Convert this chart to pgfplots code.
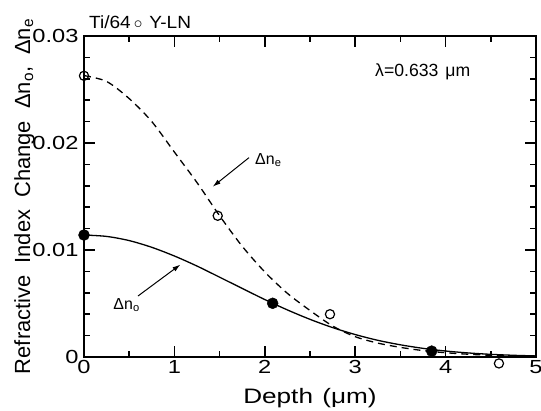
\documentclass[border=0pt]{standalone}
\usepackage{fontspec}
\setmainfont{Liberation Sans}
\newfontfamily\widefont{Liberation Sans}[FakeStretch=1.25]
\newfontfamily\semiwide{Liberation Sans}[FakeStretch=1.08]
\usepackage{pgfplots}
\pgfplotsset{compat=1.18}
\usetikzlibrary{arrows.meta}

\pgfplotstableread{
x y
0.00 0.02630
0.25 0.02575
0.50 0.02415
0.75 0.02200
1.00 0.01915
1.25 0.01630
1.50 0.01320
1.75 0.01035
2.00 0.00795
2.25 0.00595
2.50 0.00435
2.75 0.00290
3.00 0.00190
3.25 0.00130
3.50 0.00090
3.75 0.00060
4.00 0.00040
4.25 0.00026
4.50 0.00016
4.75 0.00009
5.00 0.00004
}\curveE

\pgfplotstableread{
x y
0.00 0.01140
0.25 0.01127
0.50 0.01088
0.75 0.01025
1.00 0.00944
1.25 0.00850
1.50 0.00746
1.75 0.00641
2.00 0.00537
2.25 0.00440
2.50 0.00352
2.75 0.00275
3.00 0.00210
3.25 0.00156
3.50 0.00114
3.75 0.00081
4.00 0.00056
4.25 0.00038
4.50 0.00025
4.75 0.00016
5.00 0.00010
}\curveO

\pgfplotstableread{
x y
0.00 0.02628
1.479 0.01320
2.721 0.00400
4.59 -0.00060
}\dataE

\pgfplotstableread{
x y
0.00 0.01140
2.087 0.00502
3.846 0.00055
}\dataO

\begin{document}
\begin{tikzpicture}
\begin{axis}[
  name=ax,
  scale only axis, width=452bp, height=321bp,
  xmin=0, xmax=5, ymin=0, ymax=0.03,
  clip=false,
  xtick={0,1,2,3,4,5}, xticklabels={0,1,2,3,4,5},
  minor xtick={0.5,1.5,2.5,3.5,4.5},
  ytick={0,0.01,0.02,0.03}, yticklabels={0,0.01,0.02,0.03},
  minor y tick num=4,
  scaled y ticks=false, scaled x ticks=false,
  tick pos=both, xticklabel pos=lower, yticklabel pos=left,
  tick align=inside,
  major tick length=11bp, minor tick length=6bp,
  axis line style={line width=1.8bp},
  every tick/.style={line width=1.5bp, black},
  /pgf/number format/assume math mode=true,
  ticklabel style={font=\widefont\fontsize{19}{19}\selectfont},
  yticklabel style={xshift=-2bp},
  xlabel={Depth\hspace{0.45em}(μm)},
  ylabel={Refractive\hspace{0.55em}Index\hspace{0.55em}Change\hspace{0.55em}Δn\textsubscript{o},\hspace{0.55em}Δn\textsubscript{e}},
  every axis x label/.style={at={(axis description cs:0.5,-0.128)}, anchor=center, font=\widefont\fontsize{21}{21}\selectfont},
  every axis y label/.style={at={(axis description cs:-0.132,0.5)}, anchor=center, rotate=90, font=\fontsize{22}{22}\selectfont},
]
\addplot[black, line width=1.3bp, dash pattern=on 7bp off 5bp, smooth] table[x=x,y=y] {\curveE};
\addplot[black, line width=1.3bp, smooth] table[x=x,y=y] {\curveO};
\addplot[only marks, mark=o, mark size=4.6bp, mark options={line width=1.2bp, black}] table[x=x,y=y] {\dataE};
\addplot[only marks, mark=*, mark size=5.5bp, mark options={black, fill=black}] table[x=x,y=y] {\dataO};

\draw[-{Latex[length=8bp,width=5bp]}, line width=1bp] (axis cs:1.825,0.01863) -- (axis cs:1.424,0.01592);
\draw[-{Latex[length=8bp,width=5bp]}, line width=1bp] (axis cs:0.597,0.0057) -- (axis cs:1.067,0.00864);
\node[anchor=base west, inner sep=0, font=\fontsize{16}{16}\selectfont] at (axis cs:1.892,0.01801) {Δn\textsubscript{e}};
\node[anchor=base west, inner sep=0, font=\fontsize{16}{16}\selectfont] at (axis cs:0.324,0.00446) {Δn\textsubscript{o}};
\node[anchor=base west, inner sep=0, font=\fontsize{17.7}{17.7}\selectfont] at (axis cs:3.219,0.02626) {λ=0.633\hspace{0.4em}μm};
\end{axis}
\node[anchor=base west, inner sep=0, font=\semiwide\fontsize{17.7}{17.7}\selectfont] at ([xshift=5bp,yshift=7bp]ax.north west) {Ti/64\,$\circ$\hspace{0.4em}Y-LN};
\pgfresetboundingbox
\path[use as bounding box] ([xshift=-84bp,yshift=-53bp]ax.south west) rectangle ([xshift=5bp,yshift=36bp]ax.north east);
\end{tikzpicture}
\end{document}
